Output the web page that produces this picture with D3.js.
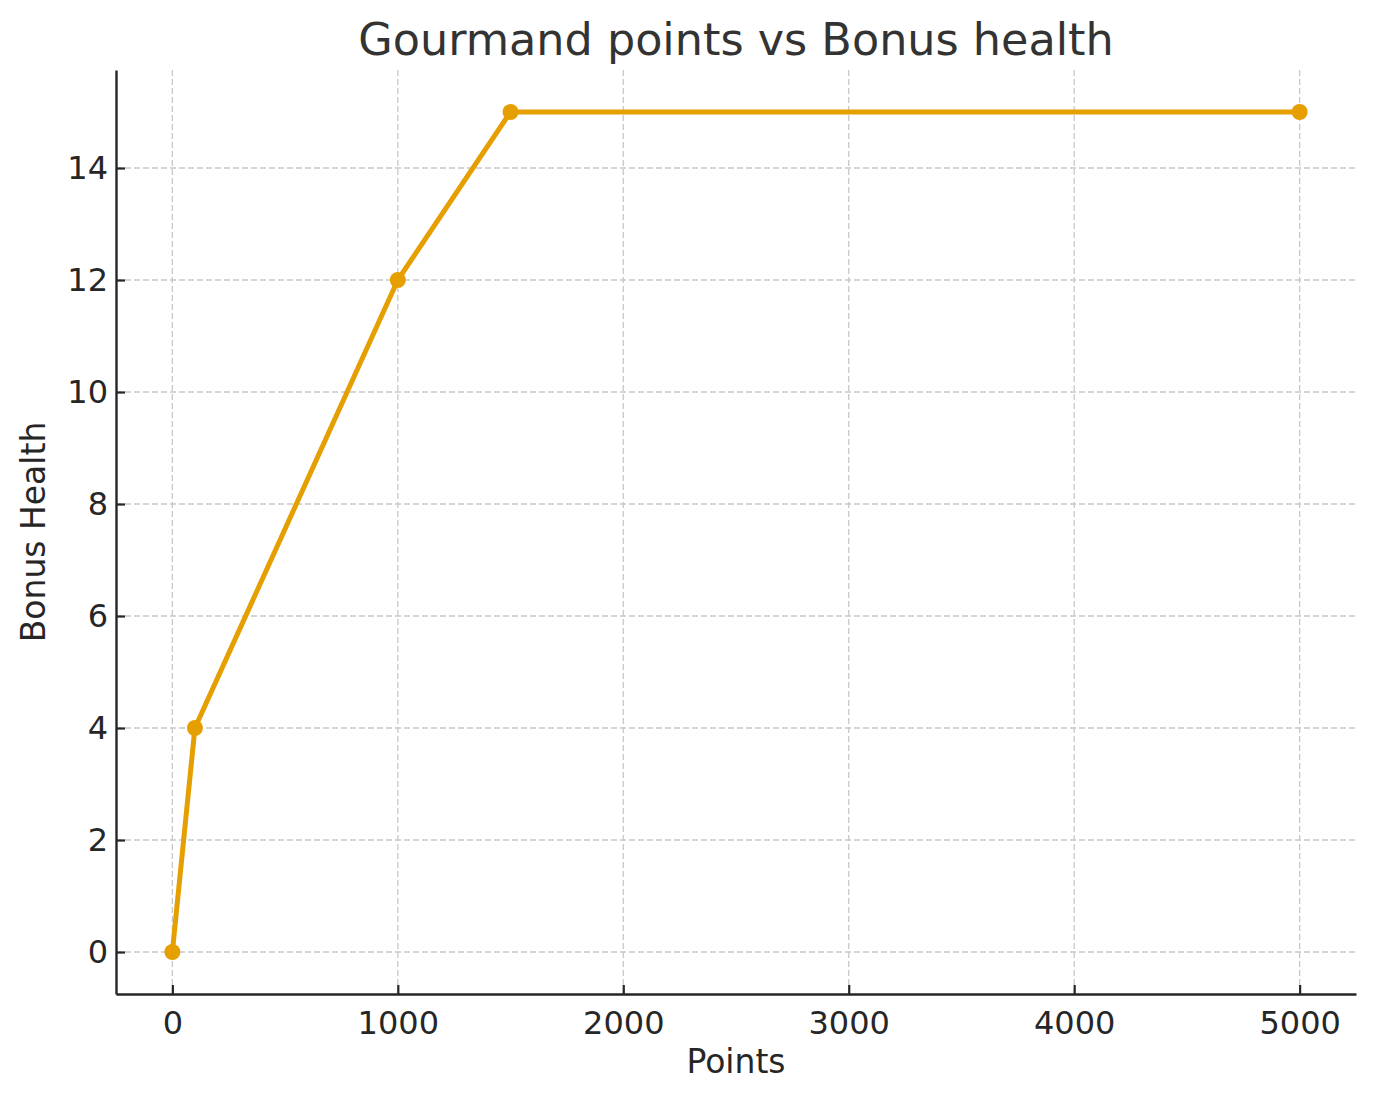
<!DOCTYPE html>
<html>
<head>
<meta charset="utf-8">
<script src="https://cdn.jsdelivr.net/npm/d3@7"></script>
<style>
  body { margin: 0; background: #fff; }
  text { font-family: 'DejaVu Sans', sans-serif; }
</style>
</head>
<body>
<div id="chart"></div>
<script>
const points = [0, 100, 1000, 1500, 5000]
const bonusHealth = [0, 4, 12, 15, 15]
const xTicks = [0, 1000, 2000, 3000, 4000, 5000]
const yTicks = [0, 2, 4, 6, 8, 10, 12, 14]

const width = 1376
const height = 1101
const margin = { top: 70, right: 20, bottom: 107, left: 116 }
const lineColor = '#e69f00'
const inkColor = '#262626'

const svg = d3
  .select('#chart')
  .append('svg')
  .attr('width', width)
  .attr('height', height)

const xScale = d3
  .scaleLinear()
  .domain([-250, 5250])
  .range([margin.left, width - margin.right])

const yScale = d3
  .scaleLinear()
  .domain([-0.75, 15.75])
  .range([height - margin.bottom, margin.top])

// grid
const grid = svg
  .append('g')
  .attr('stroke', '#c8c8c8')
  .attr('stroke-width', 1.3)
  .attr('stroke-dasharray', '6,3')
grid
  .selectAll('line.gx')
  .data(xTicks)
  .join('line')
  .attr('class', 'gx')
  .attr('x1', d => xScale(d))
  .attr('x2', d => xScale(d))
  .attr('y1', yScale.range()[0])
  .attr('y2', yScale.range()[1])
grid
  .selectAll('line.gy')
  .data(yTicks)
  .join('line')
  .attr('class', 'gy')
  .attr('x1', xScale.range()[0])
  .attr('x2', xScale.range()[1])
  .attr('y1', d => yScale(d))
  .attr('y2', d => yScale(d))

// axes, ticks point inward
const xAxis = svg
  .append('g')
  .attr('transform', `translate(0, ${height - margin.bottom})`)
  .call(
    d3.axisBottom(xScale).tickValues(xTicks).tickFormat(d3.format('d'))
      .tickSizeInner(-9).tickSizeOuter(0).tickPadding(17),
  )
const yAxis = svg
  .append('g')
  .attr('transform', `translate(${margin.left}, 0)`)
  .call(
    d3.axisLeft(yScale).tickValues(yTicks).tickFormat(d3.format('d'))
      .tickSizeInner(-9).tickSizeOuter(0).tickPadding(8),
  )

;[xAxis, yAxis].forEach(ax => {
  ax.select('.domain').attr('stroke', inkColor).attr('stroke-width', 2.4)
  ax.selectAll('.tick line').attr('stroke', inkColor).attr('stroke-width', 2.2)
  ax.selectAll('.tick text')
    .attr('fill', inkColor)
    .attr('font-size', 32)
    .attr('font-family', 'DejaVu Sans, sans-serif')
})

// line + markers
const data = points.map((p, i) => ({ p, h: bonusHealth[i] }))
svg
  .append('path')
  .datum(data)
  .attr('fill', 'none')
  .attr('stroke', lineColor)
  .attr('stroke-width', 5)
  .attr('stroke-linejoin', 'round')
  .attr('d', d3.line().x(d => xScale(d.p)).y(d => yScale(d.h)))
svg
  .selectAll('circle.pt')
  .data(data)
  .join('circle')
  .attr('class', 'pt')
  .attr('cx', d => xScale(d.p))
  .attr('cy', d => yScale(d.h))
  .attr('r', 8)
  .attr('fill', lineColor)

// labels
svg
  .append('text')
  .attr('x', (margin.left + width - margin.right) / 2)
  .attr('y', 55)
  .attr('text-anchor', 'middle')
  .attr('font-size', 44.5)
  .attr('fill', '#333')
  .text('Gourmand points vs Bonus health')
svg
  .append('text')
  .attr('x', (margin.left + width - margin.right) / 2)
  .attr('y', 1073)
  .attr('text-anchor', 'middle')
  .attr('font-size', 33)
  .attr('fill', inkColor)
  .text('Points')
svg
  .append('text')
  .attr('transform', `translate(45, ${(margin.top + height - margin.bottom) / 2}) rotate(-90)`)
  .attr('text-anchor', 'middle')
  .attr('font-size', 33)
  .attr('fill', inkColor)
  .text('Bonus Health')
</script>
</body>
</html>
